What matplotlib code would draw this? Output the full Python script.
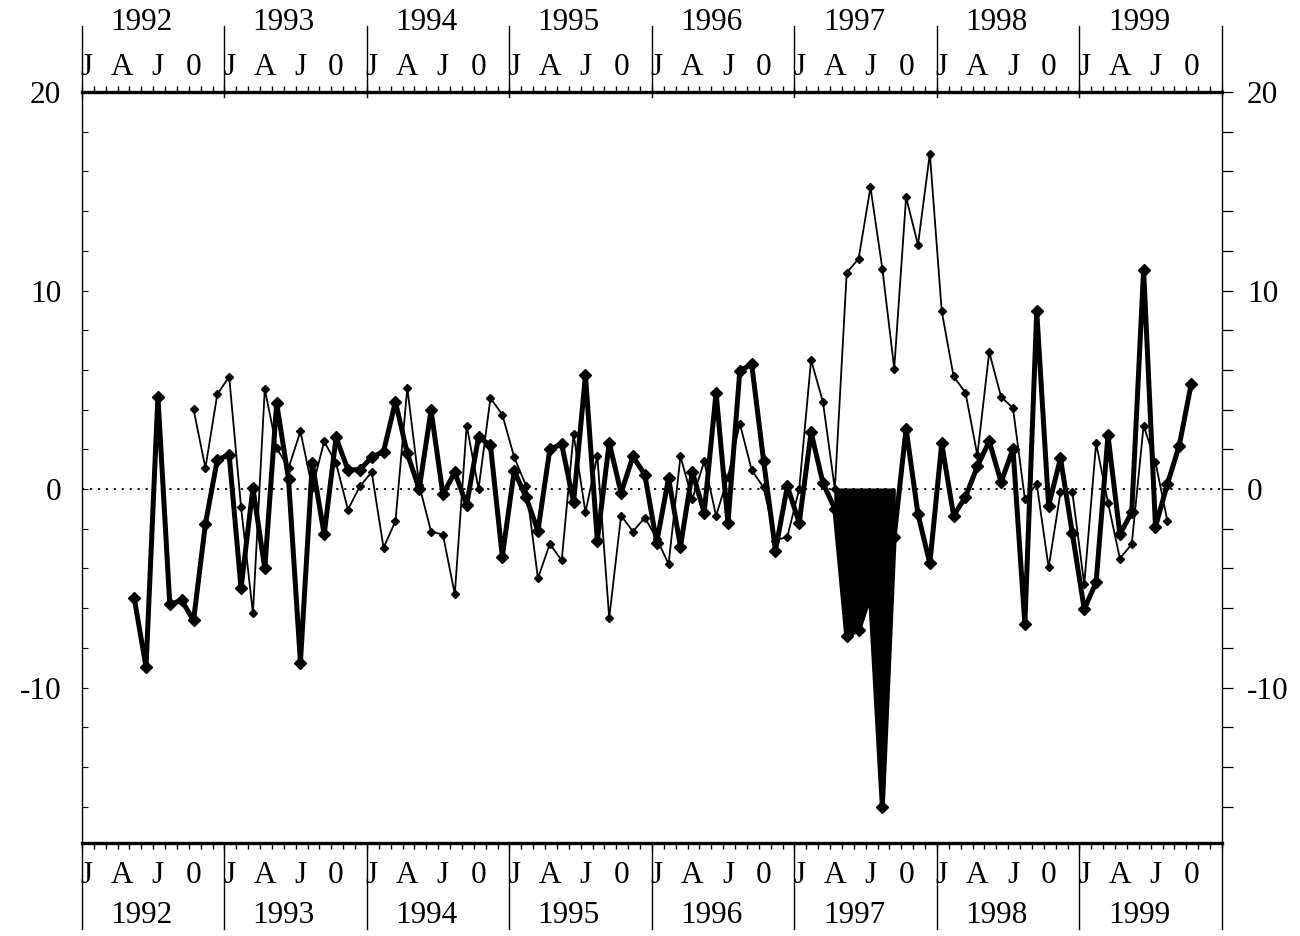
import numpy as np
import matplotlib
matplotlib.use("Agg")
import matplotlib.pyplot as plt
import matplotlib.transforms as mtransforms

plt.rcParams['font.family'] = ['Liberation Serif', 'DejaVu Serif']
plt.rcParams['axes.unicode_minus'] = False

# monthly series
years = [1992, 1993, 1994, 1995, 1996, 1997, 1998, 1999]
month_letters = ['J', 'A', 'J', '0']

thick_start = (1992, 5)
thick_vals = [
    -5.48, -8.96, 4.66, -5.81, -5.61, -6.62, -1.76, 1.47,                # 1992 May-Dec
    1.73, -5.0, 0.05, -4.0, 4.32, 0.5, -8.74, 1.3, -2.29, 2.6, 0.97, 0.97,  # 1993
    1.6, 1.89, 4.4, 1.79, 0.0, 3.97, -0.27, 0.84, -0.8, 2.63, 2.2, -3.4,  # 1994
    0.92, -0.42, -2.1, 2.0, 2.26, -0.67, 5.73, -2.6, 2.34, -0.2, 1.64, 0.72,  # 1995
    -2.7, 0.55, -2.9, 0.87, -1.2, 4.86, -1.72, 5.96, 6.28, 1.43, -3.1, 0.14,  # 1996
    -1.7, 2.86, 0.3, -1.0, -7.4, -7.1, -5.3, -16.0, -2.4, 3.04, -1.27, -3.75,  # 1997
    2.3, -1.34, -0.4, 1.14, 2.41, 0.34, 2.03, -6.8, 8.95, -0.84, 1.55, -2.24,  # 1998
    -6.05, -4.7, 2.7, -2.28, -1.18, 11.05, -1.9, 0.25, 2.19, 5.27,        # 1999 Jan-Oct
]

thin_start = (1992, 10)
thin_vals = [
    4.02, 1.06, 4.77,                                                    # 1992 Oct-Dec
    5.66, -0.9, -6.26, 5.04, 2.06, 1.06, 2.9, 0.05, 2.4, 1.3, -1.04, 0.13,  # 1993
    0.85, -2.96, -1.62, 5.1, 0.2, -2.14, -2.3, -5.3, 3.2, 0.0, 4.58, 3.75,  # 1994
    1.6, 0.17, -4.5, -2.76, -3.6, 2.76, -1.17, 1.67, -6.5, -1.34, -2.14, -1.44,  # 1995
    -2.5, -3.78, 1.64, -0.5, 1.39, -1.35, 0.6, 3.3, 0.95, 0.08, -2.6, -2.4,  # 1996
    0.0, 6.5, 4.38, 0.0, 10.9, 11.6, 15.2, 11.1, 6.07, 14.7, 12.3, 16.9,  # 1997
    8.96, 5.67, 4.86, 1.7, 6.9, 4.64, 4.08, -0.5, 0.25, -3.95, -0.17, -0.17,  # 1998
    -4.8, 2.3, -0.68, -3.5, -2.78, 3.2, 1.35, -1.6,                       # 1999 Jan-Aug
]

# shaded dip of the thick series (Apr-Sep 1997)
fill_from = (1997, 4)
fill_to = (1997, 9)


def month_pos(year, month, n=1):
    # months since Jan 1992, marks sit a bit before mid-month
    return (year - years[0]) * 12 + (month - 1) + np.arange(n) + 0.4


x_thick = month_pos(*thick_start, len(thick_vals))
x_thin = month_pos(*thin_start, len(thin_vals))
y_thick = np.array(thick_vals)
y_thin = np.array(thin_vals)

fig = plt.figure(figsize=(13, 9.36), dpi=100)
ax = fig.add_axes([0.063, 0.0994, 0.877, 0.8023])

nmonths = 12 * len(years)
ax.set_xlim(0, nmonths)
ax.set_ylim(-17.83, 20)

# zero reference
ax.axhline(0, color='black', lw=1.3, ls=(0, (1.2, 3.2)), zorder=1)

# filled dip
sel = (x_thick >= month_pos(*fill_from)[0]) & (x_thick <= month_pos(*fill_to)[0])
ax.fill_between(x_thick[sel], y_thick[sel], 0, where=y_thick[sel] < 0,
                interpolate=True, color='black', lw=1.5, zorder=2)

ax.plot(x_thin, y_thin, color='black', lw=1.3, marker='D', ms=4.5, zorder=3)
ax.plot(x_thick, y_thick, color='black', lw=3.6, marker='D', ms=6.5, zorder=4)

# spines
for side in ['top', 'bottom']:
    ax.spines[side].set_linewidth(2.4)
for side in ['left', 'right']:
    ax.spines[side].set_linewidth(1.0)

# month ticks on top and bottom (labels drawn as text below)
ax.set_xticks([])
ax.set_xticks(np.arange(0, nmonths + 1), minor=True)
ax.tick_params(axis='x', which='minor', length=4, width=1.0, direction='out',
               top=True, bottom=True)

# y axis, left and right
ax.set_yticks([-10, 0, 10, 20])
ax.set_yticks(np.arange(-16, 21, 2), minor=True)
ax.tick_params(axis='y', which='both', length=4, width=0.8, direction='in',
               labelsize=22.5, pad=15)
ax2 = ax.twinx()
ax2.set_ylim(ax.get_ylim())
ax2.set_yticks([-10, 0, 10, 20])
ax2.set_yticks(np.arange(-16, 21, 2), minor=True)
ax2.tick_params(axis='y', which='both', length=8, width=0.9, direction='out',
                labelsize=22.5, pad=10)
for s in ax2.spines.values():
    s.set_visible(False)

# month letters, years and separators above and below
trans = mtransforms.blended_transform_factory(ax.transData, ax.transAxes)
for i, yr in enumerate(years):
    for k, m in enumerate((0, 3, 6, 9)):
        xm = 12 * i + m + 0.4
        ax.text(xm, 1.032, month_letters[k], transform=trans, ha='center',
                va='center', fontsize=22.5, clip_on=False)
        ax.text(xm, -0.043, month_letters[k], transform=trans, ha='center',
                va='center', fontsize=22.5, clip_on=False)
    ax.text(12 * i + 5, 1.092, str(yr), transform=trans, ha='center',
            va='center', fontsize=22.5, clip_on=False)
    ax.text(12 * i + 5, -0.097, str(yr), transform=trans, ha='center',
            va='center', fontsize=22.5, clip_on=False)
for i in range(len(years) + 1):
    ax.plot([12 * i, 12 * i], [0.993, 1.088], transform=trans, color='black',
            lw=1.0, clip_on=False)
    ax.plot([12 * i, 12 * i], [0.0, -0.115], transform=trans, color='black',
            lw=1.0, clip_on=False)

fig.savefig('out.png', dpi=100)
